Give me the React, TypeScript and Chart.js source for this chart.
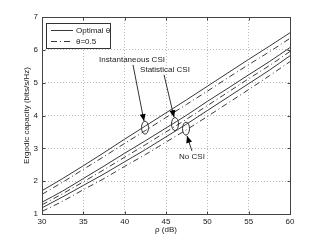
import React, { useEffect, useRef } from "react";
import { Chart, registerables } from "chart.js";
Chart.register(...registerables);

// ρ (dB) sample points
const rho = [30, 32.5, 35, 37.5, 40, 42.5, 45, 47.5, 50, 52.5, 55, 57.5, 60];
// Instantaneous CSI
const instOpt = [1.71, 2.08, 2.47, 2.87, 3.28, 3.68, 4.08, 4.48, 4.89, 5.3, 5.71, 6.11, 6.52];
const instHalf = [1.6, 1.97, 2.36, 2.75, 3.15, 3.54, 3.94, 4.34, 4.74, 5.15, 5.55, 5.94, 6.35];
// Statistical CSI
const statOpt = [1.36, 1.7, 2.08, 2.46, 2.85, 3.23, 3.62, 4.01, 4.43, 4.83, 5.24, 5.64, 6.07];
const statHalf = [1.28, 1.62, 1.98, 2.35, 2.73, 3.11, 3.5, 3.89, 4.3, 4.71, 5.12, 5.52, 5.95];
// No CSI
const noOpt = [1.19, 1.52, 1.87, 2.22, 2.59, 2.96, 3.35, 3.74, 4.15, 4.56, 4.97, 5.38, 5.82];
const noHalf = [1.08, 1.39, 1.74, 2.08, 2.45, 2.81, 3.19, 3.57, 3.97, 4.38, 4.79, 5.21, 5.64];

const xTicks = [30, 35, 40, 45, 50, 55, 60];
const yTicks = [1, 2, 3, 4, 5, 6, 7];
const legendLabels = ["Optimal θ", "θ=0.5"];
const xTitle = "ρ (dB)";
const yTitle = "Ergodic capacity (bits/s/Hz)";

// annotations (data coordinates)
const annLabels = ["Instantaneous CSI", "Statistical CSI", "No CSI"];
const annText = [[40.89, 5.69], [44.88, 5.39], [48.14, 2.74]];
const annTail = [[41.01, 5.54], [44.76, 5.24], [48.14, 2.92]];
const annHead = [[42.34, 3.83], [45.97, 3.95], [47.54, 3.38]];
const annEllipse = [[42.46, 3.63], [46.09, 3.74], [47.42, 3.6]];

const FONT = "'Liberation Sans', Arial, Helvetica, sans-serif";
const LINE = "#383838";
const DASHDOT = [6, 3, 1, 3];

const pts = (ys: number[]) => rho.map((x, i) => ({ x, y: ys[i] }));

const overlay = {
  id: "overlay",
  afterDraw(chart: any) {
    const { ctx, chartArea: a, scales } = chart;
    const xs = scales.x, ys = scales.y;
    const L = Math.round(a.left) + 0.5, R = Math.round(a.right) + 0.5;
    const T = Math.round(a.top) + 0.5, B = Math.round(a.bottom) + 0.5;
    ctx.save();
    // box
    ctx.strokeStyle = "#444";
    ctx.lineWidth = 1;
    ctx.setLineDash([]);
    ctx.strokeRect(L, T, R - L, B - T);
    // inward ticks
    ctx.beginPath();
    xTicks.forEach((v) => {
      const px = Math.round(xs.getPixelForValue(v)) + 0.5;
      ctx.moveTo(px, B); ctx.lineTo(px, B - 3);
      ctx.moveTo(px, T); ctx.lineTo(px, T + 3);
    });
    yTicks.forEach((v) => {
      const py = Math.round(ys.getPixelForValue(v)) + 0.5;
      ctx.moveTo(L, py); ctx.lineTo(L + 3, py);
      ctx.moveTo(R, py); ctx.lineTo(R - 3, py);
    });
    ctx.stroke();

    // axis titles
    ctx.fillStyle = "#222";
    ctx.font = `8px ${FONT}`;
    ctx.textAlign = "center";
    ctx.textBaseline = "middle";
    ctx.fillText(xTitle, (a.left + a.right) / 2, 230);
    ctx.save();
    ctx.translate(27, (a.top + a.bottom) / 2);
    ctx.rotate(-Math.PI / 2);
    ctx.fillText(yTitle, 0, 0);
    ctx.restore();

    // legend
    const lx = 46.5, ly = 23.5, lw = 64, lh = 25;
    ctx.fillStyle = "#fff";
    ctx.fillRect(lx, ly, lw, lh);
    ctx.strokeStyle = "#333";
    ctx.strokeRect(lx, ly, lw, lh);
    const rows = [30.5, 41.5];
    rows.forEach((ry, i) => {
      ctx.beginPath();
      ctx.strokeStyle = LINE;
      ctx.setLineDash(i === 0 ? [] : DASHDOT);
      ctx.moveTo(51, ry); ctx.lineTo(73, ry);
      ctx.stroke();
      ctx.setLineDash([]);
      ctx.fillStyle = "#222";
      ctx.textAlign = "left";
      ctx.fillText(legendLabels[i], 76, ry);
    });

    // annotations
    ctx.textAlign = "center";
    annLabels.forEach((t, i) => {
      const tx = xs.getPixelForValue(annText[i][0]);
      const ty = ys.getPixelForValue(annText[i][1]);
      ctx.fillStyle = "#222";
      ctx.fillText(t, tx, ty);
      // ellipse
      const ex = xs.getPixelForValue(annEllipse[i][0]);
      const ey = ys.getPixelForValue(annEllipse[i][1]);
      ctx.beginPath();
      ctx.strokeStyle = "#333";
      ctx.ellipse(ex, ey, 3.5, 6.5, 0, 0, Math.PI * 2);
      ctx.stroke();
      // arrow
      const x0 = xs.getPixelForValue(annTail[i][0]);
      const y0 = ys.getPixelForValue(annTail[i][1]);
      const x1 = xs.getPixelForValue(annHead[i][0]);
      const y1 = ys.getPixelForValue(annHead[i][1]);
      ctx.beginPath();
      ctx.moveTo(x0, y0); ctx.lineTo(x1, y1);
      ctx.stroke();
      const ang = Math.atan2(y1 - y0, x1 - x0);
      const hl = 7, hw = 3;
      const bx = x1 - hl * Math.cos(ang), by = y1 - hl * Math.sin(ang);
      ctx.beginPath();
      ctx.fillStyle = "#000";
      ctx.moveTo(x1, y1);
      ctx.lineTo(bx + hw * Math.sin(ang), by - hw * Math.cos(ang));
      ctx.lineTo(bx - hw * Math.sin(ang), by + hw * Math.cos(ang));
      ctx.closePath();
      ctx.fill();
    });
    ctx.restore();
  },
};

export default function App() {
  const ref = useRef<HTMLCanvasElement>(null);
  useEffect(() => {
    document.body.style.margin = "0";
    const mk = (data: number[], dashed: boolean) => ({
      data: pts(data),
      borderColor: LINE,
      borderWidth: 1,
      borderDash: dashed ? DASHDOT : [],
      pointRadius: 0,
      fill: false,
      cubicInterpolationMode: "monotone" as const,
    });
    const chart = new Chart(ref.current!, {
      type: "line",
      data: {
        datasets: [
          mk(instOpt, false), mk(instHalf, true),
          mk(statOpt, false), mk(statHalf, true),
          mk(noOpt, false), mk(noHalf, true),
        ],
      },
      options: {
        responsive: false,
        animation: false,
        devicePixelRatio: 1,
        layout: { padding: { top: 17, right: 30, left: 0, bottom: 0 } },
        plugins: { legend: { display: false }, tooltip: { enabled: false } },
        scales: {
          x: {
            type: "linear", min: 30, max: 60,
            afterFit: (s: any) => { s.height = 27; },
            afterBuildTicks: (s: any) => { s.ticks = xTicks.map((v) => ({ value: v })); },
            ticks: { color: "#222", font: { family: FONT, size: 8 }, padding: 3, maxRotation: 0 },
            grid: { color: "#b8b8b8", drawTicks: false, lineWidth: 1 },
            border: { display: false, dash: [1, 2] },
          },
          y: {
            type: "linear", min: 1, max: 7,
            afterFit: (s: any) => { s.width = 42; },
            afterBuildTicks: (s: any) => { s.ticks = yTicks.map((v) => ({ value: v })); },
            ticks: { color: "#222", font: { family: FONT, size: 8 }, padding: 4 },
            grid: { color: "#b8b8b8", drawTicks: false, lineWidth: 1 },
            border: { display: false, dash: [1, 2] },
          },
        },
      },
      plugins: [overlay],
    });
    return () => chart.destroy();
  }, []);
  return (
    <div style={{ width: 320, height: 241, position: "relative" }}>
      <canvas ref={ref} width={320} height={241} style={{ display: "block" }} />
    </div>
  );
}
